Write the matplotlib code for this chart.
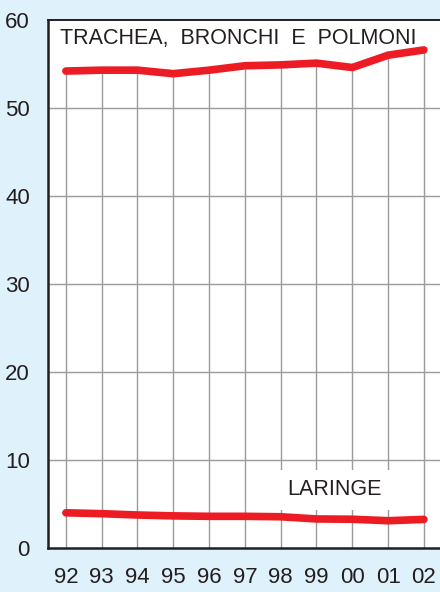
import matplotlib
matplotlib.use("Agg")
import matplotlib.pyplot as plt

years = ["92", "93", "94", "95", "96", "97", "98", "99", "00", "01", "02"]
trachea = [54.2, 54.3, 54.3, 53.9, 54.3, 54.8, 54.9, 55.1, 54.6, 56.0, 56.6]
laringe = [4.0, 3.9, 3.75, 3.65, 3.6, 3.6, 3.55, 3.3, 3.27, 3.1, 3.25]
yticks = [0, 10, 20, 30, 40, 50, 60]

bg = "#DFF1FB"
red = "#ED1C24"
txt = "#231F20"
grid = "#9A9A9A"

plt.rcParams['font.family'] = ['Liberation Sans', 'DejaVu Sans']

fig = plt.figure(figsize=(4.40, 5.92), dpi=100, facecolor=bg)
ax = fig.add_axes([48/440, 44/592, 392/440, 528/592])
ax.set_facecolor("white")

x = list(range(len(years)))
ax.set_xlim(-0.5, len(years) - 0.55)
ax.set_ylim(0, 60)

for yv in yticks[1:-1]:
    ax.axhline(yv, color=grid, lw=1.0, zorder=1)
ax.vlines(x, 0, trachea, color=grid, lw=1.0, zorder=1)

ax.plot(x, trachea, color=red, lw=5.5, solid_capstyle="round", solid_joinstyle="round", zorder=3)
ax.plot(x, laringe, color=red, lw=5.5, solid_capstyle="round", solid_joinstyle="round", zorder=3)

ax.text(-0.17, 57.9, "TRACHEA,  BRONCHI  E  POLMONI", fontsize=15.5, color=txt,
        va="center", ha="left", zorder=4)
ax.text(7.5, 6.6, "LARINGE", fontsize=15.5, color=txt, va="center", ha="center", zorder=4,
        bbox=dict(facecolor="white", edgecolor="none", pad=7))

ax.set_xticks(x)
ax.set_xticklabels(years)
ax.set_yticks(yticks)
ax.tick_params(axis="both", length=0, labelsize=16, labelcolor=txt)
ax.tick_params(axis="x", pad=14)
ax.tick_params(axis="y", pad=13)

for s in ["left", "bottom", "top"]:
    ax.spines[s].set_color(txt)
    ax.spines[s].set_linewidth(1.8)
ax.spines["top"].set_linewidth(1.4)
ax.spines["right"].set_visible(False)

fig.savefig("out.png", dpi=100, facecolor=bg)
